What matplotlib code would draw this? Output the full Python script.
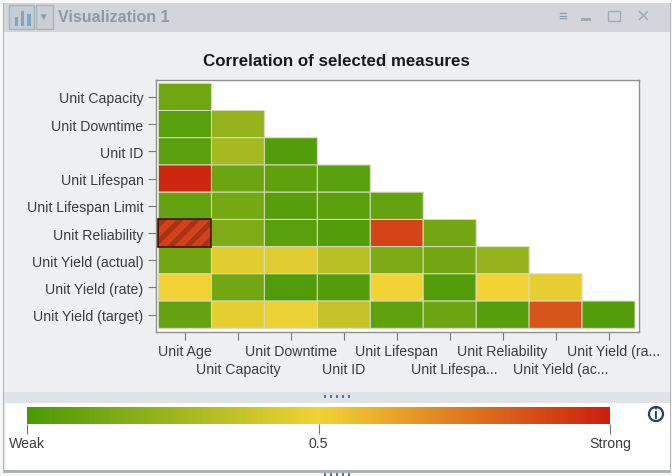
import numpy as np
import matplotlib.pyplot as plt
from matplotlib.colors import LinearSegmentedColormap
from matplotlib.patches import Rectangle, Ellipse
from matplotlib.transforms import ScaledTranslation

plt.rcParams['font.family'] = ['Liberation Sans', 'DejaVu Sans']
plt.rcParams['hatch.linewidth'] = 3.6

W, H = 672, 477

row_labels = ['Unit Capacity', 'Unit Downtime', 'Unit ID', 'Unit Lifespan', 'Unit Lifespan Limit',
              'Unit Reliability', 'Unit Yield (actual)', 'Unit Yield (rate)', 'Unit Yield (target)']
col_labels = ['Unit Age', 'Unit Capacity', 'Unit Downtime', 'Unit ID', 'Unit Lifespan',
              'Unit Lifespa...', 'Unit Reliability', 'Unit Yield (ac...', 'Unit Yield (ra...']

# correlation strength (0 weak, 1 strong)
row0 = [0.11]
row1 = [0.05, 0.22]
row2 = [0.05, 0.27, 0.03]
row3 = [0.98, 0.10, 0.06, 0.05]
row4 = [0.08, 0.13, 0.04, 0.05, 0.08]
row5 = [0.87, 0.16, 0.05, 0.03, 0.90, 0.12]
row6 = [0.12, 0.45, 0.44, 0.33, 0.15, 0.12, 0.22]
row7 = [0.50, 0.12, 0.02, 0.03, 0.50, 0.03, 0.50, 0.46]
row8 = [0.08, 0.46, 0.48, 0.36, 0.07, 0.10, 0.04, 0.85, 0.03]
rows = [row0, row1, row2, row3, row4, row5, row6, row7, row8]
selected_row, selected_col = 5, 0

cmap = LinearSegmentedColormap.from_list('weak_strong', ['#4a9a08', '#f2d335', '#cc200e'])


def px_rect(x0, y0, x1, y1):
    return [x0 / W, 1 - y1 / H, (x1 - x0) / W, (y1 - y0) / H]


def panel(x0, y0, x1, y1, color, z=0, ec='none'):
    l, b, w, h = px_rect(x0, y0, x1, y1)
    fig.add_artist(Rectangle((l, b), w, h, transform=fig.transFigure, fc=color, ec=ec, zorder=z))


def ftext(x, y, s, **kw):
    fig.text(x / W, 1 - y / H, s, **kw)


fig = plt.figure(figsize=(W / 100, H / 100), dpi=100, facecolor='#f6f7f8')

# window chrome
panel(3, 4, 671, 474, '#aeb2b6', -5)
panel(4, 4, 670, 471, '#eeeff0', -4)
panel(4, 4, 670, 33, '#d2d5d9', -3)
panel(4, 393, 670, 404, '#dfe2e6', -3)
panel(6, 404, 670, 471, '#ffffff', -3)
panel(9, 6, 34, 30, '#c4ccd4', -2, ec='#aab4bd')
panel(36, 6, 53, 30, '#c9cfd5', -2, ec='#aab4bd')
panel(15, 18, 18, 27, '#7fa6c4', -1)
panel(21, 12, 24, 27, '#7fa6c4', -1)
panel(27, 15, 31, 27, '#7fa6c4', -1)
panel(581, 19, 591, 22, '#a3acb5', -1)
panel(608, 12, 620, 22, '#d2d5d9', -1, ec='#a3acb5')
for k in range(5):
    panel(324 + 6 * k, 396, 326 + 6 * k, 399, '#4a78b0', -1)
    panel(324 + 6 * k, 474, 326 + 6 * k, 477, '#4a78b0', -1)

ftext(58, 17, 'Visualization 1', fontsize=11.5, fontweight='bold', color='#8f99a3', va='center')
ftext(43.5, 17, '▾', fontsize=8, color='#8a98a6', ha='center', va='center')
ftext(563, 17, '≡', fontsize=11, color='#8a9aa8', ha='center', va='center')
ftext(643, 17, '×', fontsize=16, color='#a3acb5', ha='center', va='center')

ftext(336.5, 61, 'Correlation of selected measures', fontsize=12.2, fontweight='bold',
      color='#1a1a1a', ha='center', va='center')

# heat map
ax = fig.add_axes(px_rect(156, 81, 639, 333), facecolor='white')
matrix = np.full((len(rows), len(col_labels)), np.nan)
for i, r in enumerate(rows):
    matrix[i, :len(r)] = r
xe = np.arange(len(col_labels) + 1) - 0.5
ye = np.arange(len(rows) + 1) - 0.5
ax.pcolor(xe, ye, np.ma.masked_invalid(matrix), cmap=cmap, vmin=0, vmax=1,
          edgecolors='#d5dcc0', linewidth=0.7)
# selected cell: the hatch takes the patch edge colour, so the dark outline is a second patch
ax.add_patch(Rectangle((selected_col - 0.5, selected_row - 0.5), 1, 1,
                       fc='#d2401c', ec='#a83416', lw=0, hatch='//', zorder=3))
ax.add_patch(Rectangle((selected_col - 0.5, selected_row - 0.5), 1, 1,
                       fc='none', ec='#3a1408', lw=1.2, zorder=4))
ax.set_xlim(-0.5 - 2.5 / 53, 8.5 + 4 / 53)
ax.set_ylim(8.5 + 3.7 / 27.2, -0.5 - 3.3 / 27.2)

ax.set_yticks(np.arange(len(row_labels)))
ax.set_yticklabels(row_labels)
ax.set_xticks(np.arange(len(col_labels)))
ax.set_xticklabels(col_labels)
ax.tick_params(axis='both', length=6, width=0.8, color='#777777', labelcolor='#3c3c3c', labelsize=10.2)
ax.tick_params(axis='y', pad=3)
for i, tick in enumerate(ax.xaxis.get_major_ticks()):
    tick.set_pad(3 if i % 2 == 0 else 15.5)

# the shortened labels sit a little right of their ticks
for i in [5, 7, 8]:
    label = ax.get_xticklabels()[i]
    label.set_transform(label.get_transform() + ScaledTranslation(5 / 100, 0, fig.dpi_scale_trans))
for side in ax.spines.values():
    side.set_color('#8f8f8f')
    side.set_linewidth(1)

# colour scale legend
lax = fig.add_axes(px_rect(27, 408, 610, 425))
lax.imshow(np.linspace(0, 1, 400)[None, :], cmap=cmap, vmin=0, vmax=1, aspect='auto', extent=[0, 1, 0, 1])
lax.set_yticks([])
lax.set_xticks([0, 0.5, 1])
lax.set_xticklabels(['Weak', '0.5', 'Strong'])
lax.tick_params(axis='x', length=7, width=0.8, color='#777777', labelcolor='#3c3c3c', labelsize=10.2, pad=2)
for side in lax.spines.values():
    side.set_visible(False)

# info icon
ftext(656, 415, 'i', fontsize=10, fontweight='bold', color='#1f3f7a', ha='center', va='center')
fig.add_artist(Ellipse((656 / W, 1 - 415 / H), 14 / W, 14 / H, transform=fig.transFigure,
                       fc='none', ec='#1f3f7a', lw=1.6))

fig.savefig('out.png', dpi=100)
